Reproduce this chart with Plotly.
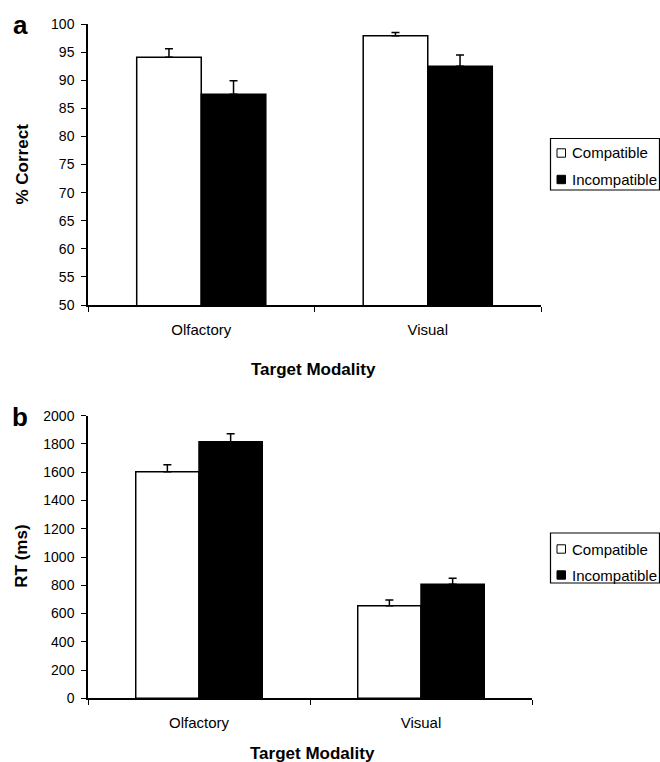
import plotly.graph_objects as go

W, H = 660, 762

# ---------------- data ----------------
modalities = ["Olfactory", "Visual"]
conditions = ["Compatible", "Incompatible"]

acc_compatible = [94.1, 97.9]
acc_incompatible = [87.5, 92.5]
acc_err_compatible = [1.5, 0.6]
acc_err_incompatible = [2.4, 2.0]

rt_compatible = [1603, 655]
rt_incompatible = [1816, 807]
rt_err_compatible = [50, 40]
rt_err_incompatible = [57, 42]

panel_labels = ["a", "b"]
y_titles = ["% Correct", "RT (ms)"]
x_title = "Target Modality"

FONT = "Arial, 'Liberation Sans', sans-serif"


def px(x):
    return x / W


def py(y):
    return 1 - y / H


fig = go.Figure()

fill = {"Compatible": "white", "Incompatible": "black"}
panels = [
    ("x", "y", [acc_compatible, acc_incompatible], [acc_err_compatible, acc_err_incompatible]),
    ("x2", "y2", [rt_compatible, rt_incompatible], [rt_err_compatible, rt_err_incompatible]),
]
for xa, ya, vals, errs in panels:
    for cond, v, e in zip(conditions, vals, errs):
        fig.add_trace(go.Bar(
            x=modalities, y=v, name=cond, xaxis=xa, yaxis=ya,
            offsetgroup=cond, showlegend=False,
            marker=dict(color=fill[cond], line=dict(color="black", width=1.5)),
            error_y=dict(type="data", array=e, arrayminus=[0] * len(e), symmetric=False,
                         color="black", thickness=1.5, width=4),
        ))

axis_common = dict(showline=True, linecolor="black", linewidth=1.5, ticks="outside",
                   ticklen=5, tickcolor="black", tickwidth=1.2, showgrid=False, zeroline=False,
                   color="black", automargin=False)

fig.update_layout(
    width=W, height=H,
    margin=dict(l=0, r=0, t=0, b=0, pad=0, autoexpand=False),
    paper_bgcolor="white", plot_bgcolor="white",
    barmode="group", bargap=0.43, bargroupgap=0,
    font=dict(family=FONT, color="black"),
    xaxis=dict(domain=[px(88), px(541)], anchor="y", tickson="boundaries",
               tickfont=dict(size=15), ticklabelstandoff=10, **axis_common),
    yaxis=dict(domain=[py(305), py(24)], anchor="x", range=[50, 100], dtick=5,
               tickfont=dict(size=14), ticklabelstandoff=4, **axis_common),
    xaxis2=dict(domain=[px(88), px(532)], anchor="y2", tickson="boundaries",
                tickfont=dict(size=15), ticklabelstandoff=10, **axis_common),
    yaxis2=dict(domain=[py(698.3), py(415.7)], anchor="x2", range=[0, 2000], dtick=200,
                tickfont=dict(size=14), ticklabelstandoff=4, **axis_common),
)

annotations = []
shapes = []
# panel letters
for lab, yc in zip(panel_labels, [25, 417]):
    annotations.append(dict(text=f"<b>{lab}</b>", x=px(20), y=py(yc), xref="paper", yref="paper",
                            showarrow=False, xanchor="center", yanchor="middle",
                            font=dict(size=26, family=FONT)))
# y titles
for t, yc in zip(y_titles, [164.5, 556.7]):
    annotations.append(dict(text=f"<b>{t}</b>", x=px(22), y=py(yc), xref="paper", yref="paper",
                            showarrow=False, textangle=-90, xanchor="center", yanchor="middle",
                            font=dict(size=17, family=FONT)))
# x titles
for xc, yc in [(313, 369), (312, 753)]:
    annotations.append(dict(text=f"<b>{x_title}</b>", x=px(xc), y=py(yc), xref="paper", yref="paper",
                            showarrow=False, xanchor="center", yanchor="middle",
                            font=dict(size=17, family=FONT)))

# legends (one per panel)
for top, bot, rows in [(138.5, 190, [153, 179.5]), (533, 583, [549, 575])]:
    shapes.append(dict(type="rect", xref="paper", yref="paper", x0=px(550.5), x1=px(659.5),
                       y0=py(bot), y1=py(top), line=dict(color="black", width=1.2),
                       fillcolor="white", layer="above"))
    for cond, yc in zip(conditions, rows):
        shapes.append(dict(type="rect", xref="paper", yref="paper", x0=px(557), x1=px(565.5),
                           y0=py(yc + 4.2), y1=py(yc - 4.2),
                           line=dict(color="black", width=1), fillcolor=fill[cond], layer="above"))
        annotations.append(dict(text=cond, x=px(569.5), y=py(yc), xref="paper", yref="paper",
                                showarrow=False, xanchor="left", yanchor="middle",
                                font=dict(size=15, family=FONT)))

fig.update_layout(annotations=annotations, shapes=shapes)
fig.write_html(
    "out.html",
    config={"displayModeBar": False},
    post_script="document.body.style.margin='0';document.body.style.overflow='hidden';",
)
